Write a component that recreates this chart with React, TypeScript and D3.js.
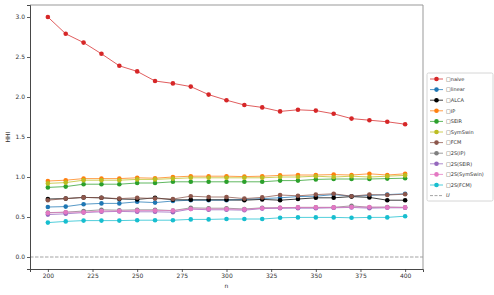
import React, { useEffect, useRef } from 'react';
import * as d3 from 'd3';

const nValues = [200, 210, 220, 230, 240, 250, 260, 270, 280, 290, 300, 310, 320, 330, 340, 350, 360, 370, 380, 390, 400];

const naive = [3.00, 2.79, 2.68, 2.54, 2.39, 2.32, 2.20, 2.17, 2.13, 2.03, 1.96, 1.90, 1.87, 1.82, 1.84, 1.83, 1.79, 1.73, 1.71, 1.69, 1.66];
const linear = [0.625, 0.63, 0.66, 0.67, 0.67, 0.69, 0.68, 0.70, 0.71, 0.71, 0.71, 0.72, 0.73, 0.74, 0.755, 0.76, 0.78, 0.76, 0.77, 0.78, 0.79];
const alca = [0.725, 0.73, 0.745, 0.74, 0.725, 0.72, 0.74, 0.715, 0.715, 0.715, 0.715, 0.71, 0.72, 0.71, 0.725, 0.74, 0.74, 0.755, 0.745, 0.71, 0.71];
const ip = [0.95, 0.96, 0.98, 0.98, 0.98, 0.99, 0.985, 1.0, 1.01, 1.01, 1.01, 1.005, 1.01, 1.02, 1.025, 1.025, 1.03, 1.025, 1.04, 1.025, 1.04];
const seir = [0.87, 0.88, 0.91, 0.91, 0.91, 0.925, 0.925, 0.94, 0.94, 0.94, 0.94, 0.94, 0.94, 0.955, 0.955, 0.97, 0.975, 0.975, 0.975, 0.98, 0.985];
const symswin = [0.92, 0.93, 0.96, 0.96, 0.96, 0.97, 0.97, 0.98, 0.99, 0.99, 0.99, 0.99, 0.99, 1.0, 1.0, 1.01, 1.0, 1.01, 1.0, 1.01, 1.02];
const fcm = [0.71, 0.73, 0.745, 0.74, 0.73, 0.74, 0.73, 0.725, 0.76, 0.75, 0.75, 0.73, 0.745, 0.775, 0.765, 0.78, 0.79, 0.76, 0.78, 0.775, 0.785];
const twoSIp = [0.555, 0.56, 0.575, 0.59, 0.585, 0.59, 0.59, 0.58, 0.615, 0.61, 0.61, 0.60, 0.615, 0.615, 0.62, 0.62, 0.62, 0.64, 0.62, 0.625, 0.62];
const twoSSeir = [0.53, 0.54, 0.555, 0.565, 0.57, 0.565, 0.565, 0.56, 0.60, 0.59, 0.59, 0.585, 0.605, 0.61, 0.61, 0.61, 0.615, 0.62, 0.61, 0.615, 0.615];
const twoSSymswin = [0.55, 0.56, 0.56, 0.575, 0.575, 0.58, 0.58, 0.58, 0.60, 0.60, 0.60, 0.595, 0.61, 0.615, 0.62, 0.62, 0.62, 0.625, 0.625, 0.62, 0.62];
const twoSFcm = [0.43, 0.445, 0.455, 0.455, 0.455, 0.46, 0.46, 0.46, 0.47, 0.47, 0.475, 0.475, 0.475, 0.49, 0.495, 0.495, 0.495, 0.49, 0.495, 0.495, 0.51];

const seriesNames = ['□naive', '□linear', '□ALCA', '□IP', '□SEIR', '□SymSwin', '□FCM', '□2S(IP)', '□2S(SEIR)', '□2S(SymSwin)', '□2S(FCM)'];
const seriesValues = [naive, linear, alca, ip, seir, symswin, fcm, twoSIp, twoSSeir, twoSSymswin, twoSFcm];
const seriesColors = ['#d62728', '#1f77b4', '#000000', '#ff7f0e', '#2ca02c', '#bcbd22', '#8c564b', '#7f7f7f', '#9467bd', '#e377c2', '#17becf'];
const refLabel = 'U';

const xTicks = [200, 225, 250, 275, 300, 325, 350, 375, 400];
const yTicks = [0, 0.5, 1, 1.5, 2, 2.5, 3];

export default function App() {
  const ref = useRef<SVGSVGElement>(null);

  useEffect(() => {
    const svg = d3.select(ref.current);
    svg.selectAll('*').remove();
    const W = 494, H = 295;
    const m = { left: 30, right: 71, top: 5, bottom: 26 };
    const font = 'DejaVu Sans, sans-serif';

    const x = d3.scaleLinear().domain([190, 410]).range([m.left, W - m.right]);
    const y = d3.scaleLinear().domain([-0.15, 3.15]).range([H - m.bottom, m.top]);

    svg.append('rect').attr('width', W).attr('height', H).attr('fill', '#fff');

    // reference line at 0
    svg.append('line')
      .attr('x1', m.left).attr('x2', W - m.right)
      .attr('y1', y(0)).attr('y2', y(0))
      .attr('stroke', '#999').attr('stroke-width', 0.9)
      .attr('stroke-dasharray', '3.5,1.5');

    const line = d3.line<number>().x((_, i) => x(nValues[i])).y(d => y(d));

    seriesValues.forEach((vals, k) => {
      const g = svg.append('g');
      g.append('path')
        .attr('d', line(vals))
        .attr('fill', 'none')
        .attr('stroke', seriesColors[k])
        .attr('stroke-width', 1)
        .attr('stroke-opacity', 0.75);
      g.selectAll('circle').data(vals).enter().append('circle')
        .attr('cx', (_, i) => x(nValues[i]))
        .attr('cy', d => y(d))
        .attr('r', 2.3)
        .attr('fill', seriesColors[k]);
    });

    // spines
    svg.append('line').attr('x1', m.left).attr('x2', W - m.right).attr('y1', m.top).attr('y2', m.top)
      .attr('stroke', '#999').attr('stroke-width', 1.2);
    svg.append('line').attr('x1', W - m.right).attr('x2', W - m.right).attr('y1', m.top).attr('y2', H - m.bottom)
      .attr('stroke', '#999').attr('stroke-width', 1);

    const xAxis = svg.append('g')
      .attr('transform', `translate(0,${H - m.bottom})`)
      .call(d3.axisBottom(x).tickValues(xTicks).tickSize(3).tickPadding(2).tickFormat(d3.format('d')));
    const yAxis = svg.append('g')
      .attr('transform', `translate(${m.left},0)`)
      .call(d3.axisLeft(y).tickValues(yTicks).tickSize(3).tickPadding(2).tickFormat(d3.format('.1f')));

    [xAxis, yAxis].forEach(a => {
      a.select('.domain').attr('stroke', '#333').attr('stroke-width', 0.9);
      a.selectAll('.tick line').attr('stroke', '#333').attr('stroke-width', 0.8);
      a.selectAll('.tick text').attr('font-family', font).attr('font-size', 6).attr('fill', '#333');
    });

    svg.append('text')
      .attr('x', (m.left + W - m.right) / 2).attr('y', 288)
      .attr('text-anchor', 'middle')
      .attr('font-family', font).attr('font-size', 6).attr('fill', '#333')
      .text('n');
    svg.append('text')
      .attr('transform', `translate(10,${(m.top + H - m.bottom) / 2}) rotate(-90)`)
      .attr('text-anchor', 'middle')
      .attr('font-family', font).attr('font-size', 6).attr('fill', '#333')
      .text('HHI');

    // legend
    const lg = svg.append('g').attr('transform', 'translate(427,73)');
    lg.append('rect').attr('width', 66).attr('height', 128)
      .attr('fill', '#fff').attr('stroke', '#ccc').attr('stroke-width', 0.8).attr('rx', 1.5);
    const step = 10.6;
    seriesNames.forEach((name, k) => {
      const yy = 6 + k * step;
      lg.append('line').attr('x1', 3).attr('x2', 16).attr('y1', yy).attr('y2', yy)
        .attr('stroke', seriesColors[k]).attr('stroke-width', 1).attr('stroke-opacity', 0.75);
      lg.append('circle').attr('cx', 9.5).attr('cy', yy).attr('r', 2.3).attr('fill', seriesColors[k]);
      lg.append('text').attr('x', 19).attr('y', yy).attr('dy', '0.35em')
        .attr('font-family', font).attr('font-size', 5).attr('fill', '#333').text(name);
    });
    const yr = 6 + seriesNames.length * step;
    lg.append('line').attr('x1', 3).attr('x2', 16).attr('y1', yr).attr('y2', yr)
      .attr('stroke', '#999').attr('stroke-width', 0.9).attr('stroke-dasharray', '3,1.5');
    lg.append('text').attr('x', 19).attr('y', yr).attr('dy', '0.35em')
      .attr('font-family', font).attr('font-size', 5).attr('font-style', 'italic').attr('fill', '#333').text(refLabel);
  }, []);

  return (
    <svg ref={ref} width={494} height={295} style={{ position: 'absolute', left: 0, top: 0 }} />
  );
}
